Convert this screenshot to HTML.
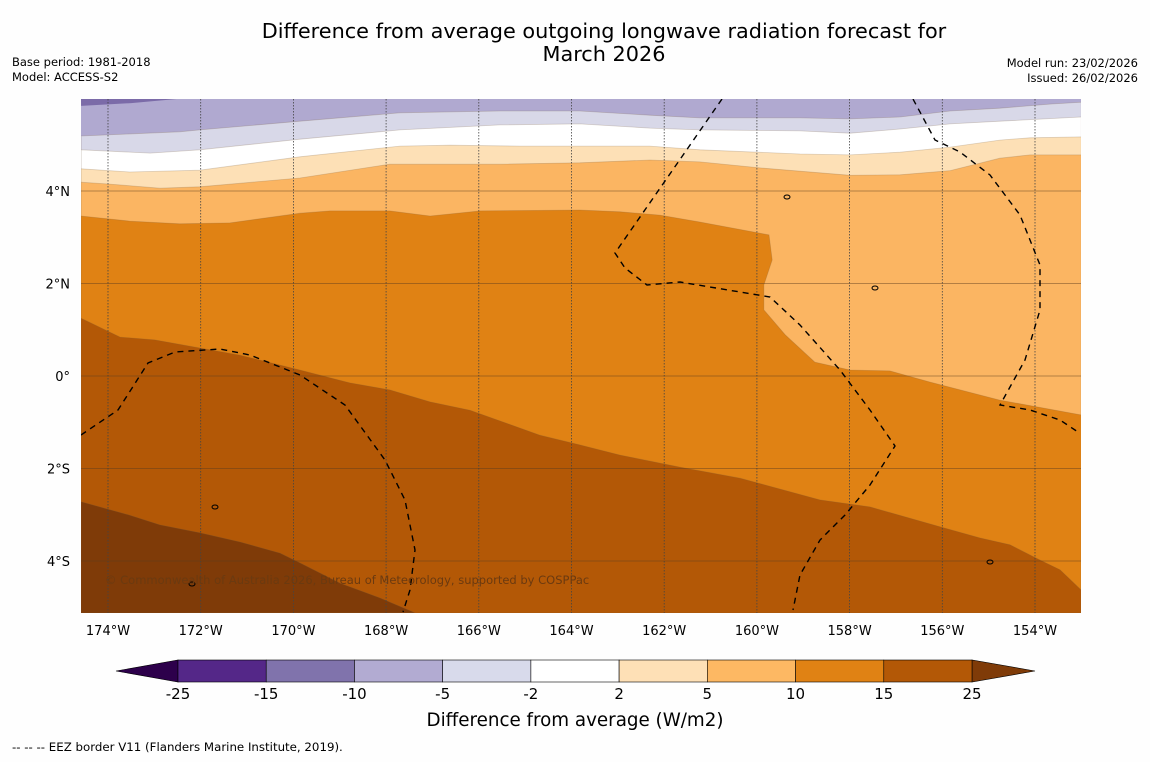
<!DOCTYPE html>
<html><head><meta charset="utf-8"><style>
body{margin:0;background:#fefefe;width:1150px;height:758px;overflow:hidden;font-family:"DejaVu Sans","Liberation Sans",sans-serif;}
svg text{font-family:"DejaVu Sans","Liberation Sans",sans-serif;}
</style></head><body>
<svg id="svg" width="1150" height="758" xmlns="http://www.w3.org/2000/svg">
<text x="604" y="38" font-size="20.8" text-anchor="middle" fill="#000">Difference from average outgoing longwave radiation forecast for</text>
<text x="604" y="61" font-size="20.8" text-anchor="middle" fill="#000">March 2026</text>
<text x="12" y="66" font-size="11.5">Base period: 1981-2018</text>
<text x="12" y="81" font-size="11.5">Model: ACCESS-S2</text>
<text x="1138" y="67" font-size="11.5" text-anchor="end">Model run: 23/02/2026</text>
<text x="1138" y="82" font-size="11.5" text-anchor="end">Issued: 26/02/2026</text>
<defs><clipPath id="mc"><rect x="81" y="99" width="1000" height="514"/></clipPath></defs>
<g id="map" clip-path="url(#mc)"></g>
<g id="axes"></g>
<g id="cbar"></g>
<text x="575" y="726" font-size="18.3" text-anchor="middle">Difference from average (W/m2)</text>
<text x="12" y="751" font-size="11.8">--  --  -- EEZ border V11 (Flanders Marine Institute, 2019).</text>
</svg>
<script>
const levels=[-10,-5,-2,2,5,10,15,25];
const bandColors={"-10":"#7b6ba8","-5":"#d8d8e8","-2":"#ffffff","2":"#fde0b6","5":"#fbb562","10":"#e08214","15":"#b35806","25":"#7f3b08"};
const c_m10_lon=[-174.58,-173.5,-172.4];
const c_m10_lat=[5.84,5.9,6.0];
const c_m5_lon=[-174.58,-172.45,-172.02,-169.86,-167.70,-165.54,-163.82,-162.31,-161.23,-159.07,-157.99,-156.91,-155.83,-154.76,-153.68,-153.0];
const c_m5_lat=[5.19,5.28,5.32,5.51,5.69,5.73,5.73,5.64,5.58,5.58,5.56,5.60,5.73,5.79,5.88,5.92];
const c_m2_lon=[-174.58,-173.09,-172.02,-169.86,-167.70,-165.54,-163.82,-162.31,-161.23,-159.07,-157.99,-156.91,-155.83,-154.76,-153.0];
const c_m2_lat=[4.89,4.82,4.89,5.12,5.32,5.43,5.45,5.36,5.32,5.30,5.25,5.34,5.45,5.51,5.60];
const c_2_lon=[-174.58,-173.53,-172.02,-169.86,-167.70,-166.62,-165.11,-162.31,-161.23,-159.07,-157.99,-156.91,-155.83,-154.76,-154.11,-153.0];
const c_2_lat=[4.48,4.41,4.45,4.74,4.97,4.99,4.97,4.97,4.89,4.80,4.78,4.84,4.95,5.10,5.15,5.17];
const c_5_lon=[-174.58,-173.96,-172.88,-172.02,-169.86,-167.92,-165.54,-163.82,-162.31,-161.23,-159.93,-157.99,-156.91,-155.83,-154.76,-154.11,-153.0];
const c_5_lat=[4.19,4.15,4.06,4.09,4.28,4.58,4.58,4.61,4.67,4.63,4.50,4.34,4.35,4.44,4.71,4.78,4.78];
const c_10_lon=[-174.58,-173.53,-172.45,-171.37,-169.86,-169.21,-167.92,-167.05,-165.97,-163.82,-162.95,-162.09,-161.23,-159.74,-159.67,-159.85,-159.85,-159.39,-158.75,-157.99,-157.13,-156.27,-154.76,-153.0];
const c_10_lat=[3.46,3.35,3.29,3.31,3.52,3.57,3.57,3.46,3.57,3.59,3.55,3.48,3.33,3.05,2.51,1.97,1.43,0.89,0.30,0.13,0.11,-0.13,-0.52,-0.84];
const c_15_lon=[-174.58,-173.74,-172.99,-171.15,-169.86,-168.78,-167.92,-167.05,-166.19,-164.68,-163.82,-162.95,-161.66,-160.36,-158.64,-157.56,-156.05,-155.19,-154.54,-153.89,-153.46,-153.0];
const c_15_lat=[1.25,0.84,0.78,0.45,0.13,-0.15,-0.30,-0.56,-0.74,-1.28,-1.49,-1.71,-1.97,-2.21,-2.68,-2.83,-3.26,-3.50,-3.65,-3.98,-4.19,-4.63];
const c_25_lon=[-174.58,-173.53,-172.88,-172.02,-171.15,-170.29,-169.86,-168.99,-168.13,-167.38];
const c_25_lat=[-2.72,-3.01,-3.22,-3.39,-3.59,-3.83,-4.04,-4.48,-4.80,-5.12];
const lonTicks=[-174,-172,-170,-168,-166,-164,-162,-160,-158,-156,-154];
const latTicks=[4,2,0,-2,-4];
const cbarBounds=[-25,-15,-10,-5,-2,2,5,10,15,25];
const cbarColors=["#542788","#8073ac","#b2abd2","#d8daeb","#ffffff","#fee0b6","#fdb863","#e08214","#b35806"];

const NS="http://www.w3.org/2000/svg";
const X=lon=>108+(lon+174)*46.35;
const Y=lat=>376-lat*46.25;
const L=81,R=1081,T=99,B=613;
function mk(tag,attrs,parent){const e=document.createElementNS(NS,tag);for(const k in attrs)e.setAttribute(k,attrs[k]);parent.appendChild(e);return e;}
const map=document.getElementById('map');
let bg=mk('rect',{x:L,y:T,width:R-L,height:B-T,fill:"#b0a9d0"},map);


function pts(lons,lats){return lons.map((v,i)=>X(v).toFixed(1)+","+Y(lats[i]).toFixed(1));}
let p=mk('polygon',{points:[L+","+T].concat(pts(c_m10_lon,c_m10_lat)).join(" "),fill:bandColors["-10"]},map);


const curves=[[c_m5_lon,c_m5_lat,"-5"],[c_m2_lon,c_m2_lat,"-2"],[c_2_lon,c_2_lat,"2"],[c_5_lon,c_5_lat,"5"],[c_10_lon,c_10_lat,"10"],[c_15_lon,c_15_lat,"15"],[c_25_lon,c_25_lat,"25"]];
curves.forEach(c=>{
  const P=pts(c[0],c[1]);
  const lastX=X(c[0][c[0].length-1]);
  const extra=lastX>=R-1?[R+","+B,L+","+B]:[L+","+B];
  const poly=mk('polygon',{points:P.concat(extra).join(" "),fill:bandColors[c[2]],stroke:"rgba(120,90,60,0.25)","stroke-width":0.8},map);
  
  
});
lonTicks.forEach(t=>{const l=mk('line',{x1:X(t),x2:X(t),y1:T,y2:B,stroke:"#444","stroke-width":0.8,"stroke-dasharray":"1.5,1.5"},map);

});
latTicks.forEach(t=>{const l=mk('line',{x1:L,x2:R,y1:Y(t),y2:Y(t),stroke:"rgba(90,60,30,0.45)","stroke-width":1},map);

});
const eez=["81,435 118,410 148,363 175,352 220,349 250,355 300,375 345,405 385,460 405,500 415,550 410,590 403,612",
"722,99 615,253 625,268 647,285 680,282 740,292 770,297 800,325 840,370 870,410 895,446 870,485 845,515 820,540 800,575 793,610",
"913,99 935,140 960,152 990,175 1020,215 1040,265 1040,310 1025,360 1000,405 1030,410 1060,420 1078,432"];
eez.forEach(s=>{const l=mk('polyline',{points:s,fill:"none",stroke:"#000","stroke-width":1.4,"stroke-dasharray":"6,5"},map);

});
[[787,197],[875,288],[215,507],[192,584],[990,562]].forEach(q=>{const e=mk('ellipse',{cx:q[0],cy:q[1],rx:3,ry:2,fill:"none",stroke:"#000","stroke-width":1},map);

});
let wm=mk('text',{x:105,y:584,"font-size":11.5,fill:"#6b3a10"},map);wm.textContent="© Commonwealth of Australia 2026, Bureau of Meteorology, supported by COSPPac";


const axes=document.getElementById('axes');
lonTicks.forEach(t=>{const e=mk('text',{x:X(t),y:635,"font-size":13,"text-anchor":"middle"},axes);e.textContent=Math.abs(t)+"°W";

});
latTicks.forEach(t=>{const e=mk('text',{x:70,y:Y(t)+5,"font-size":13,"text-anchor":"end"},axes);e.textContent=t===0?"0°":Math.abs(t)+"°"+(t>0?"N":"S");

});
const cb=document.getElementById('cbar');
const cx0=178,cw=(972-178)/cbarColors.length,cy=660,ch=22;
let tl=mk('polygon',{points:`116,${cy+ch/2} ${cx0},${cy} ${cx0},${cy+ch}`,fill:"#2d004b",stroke:"#000","stroke-width":0.6},cb);


let tr=mk('polygon',{points:`1035,${cy+ch/2} 972,${cy} 972,${cy+ch}`,fill:"#7f3b08",stroke:"#000","stroke-width":0.6},cb);


cbarColors.forEach((c,i)=>{const r=mk('rect',{x:cx0+i*cw,y:cy,width:cw,height:ch,fill:c,stroke:"#000","stroke-width":0.6},cb);

});
cbarBounds.forEach((b,i)=>{const e=mk('text',{x:cx0+i*cw,y:699,"font-size":15,"text-anchor":"middle"},cb);e.textContent=b;

});
</script>
</body></html>
